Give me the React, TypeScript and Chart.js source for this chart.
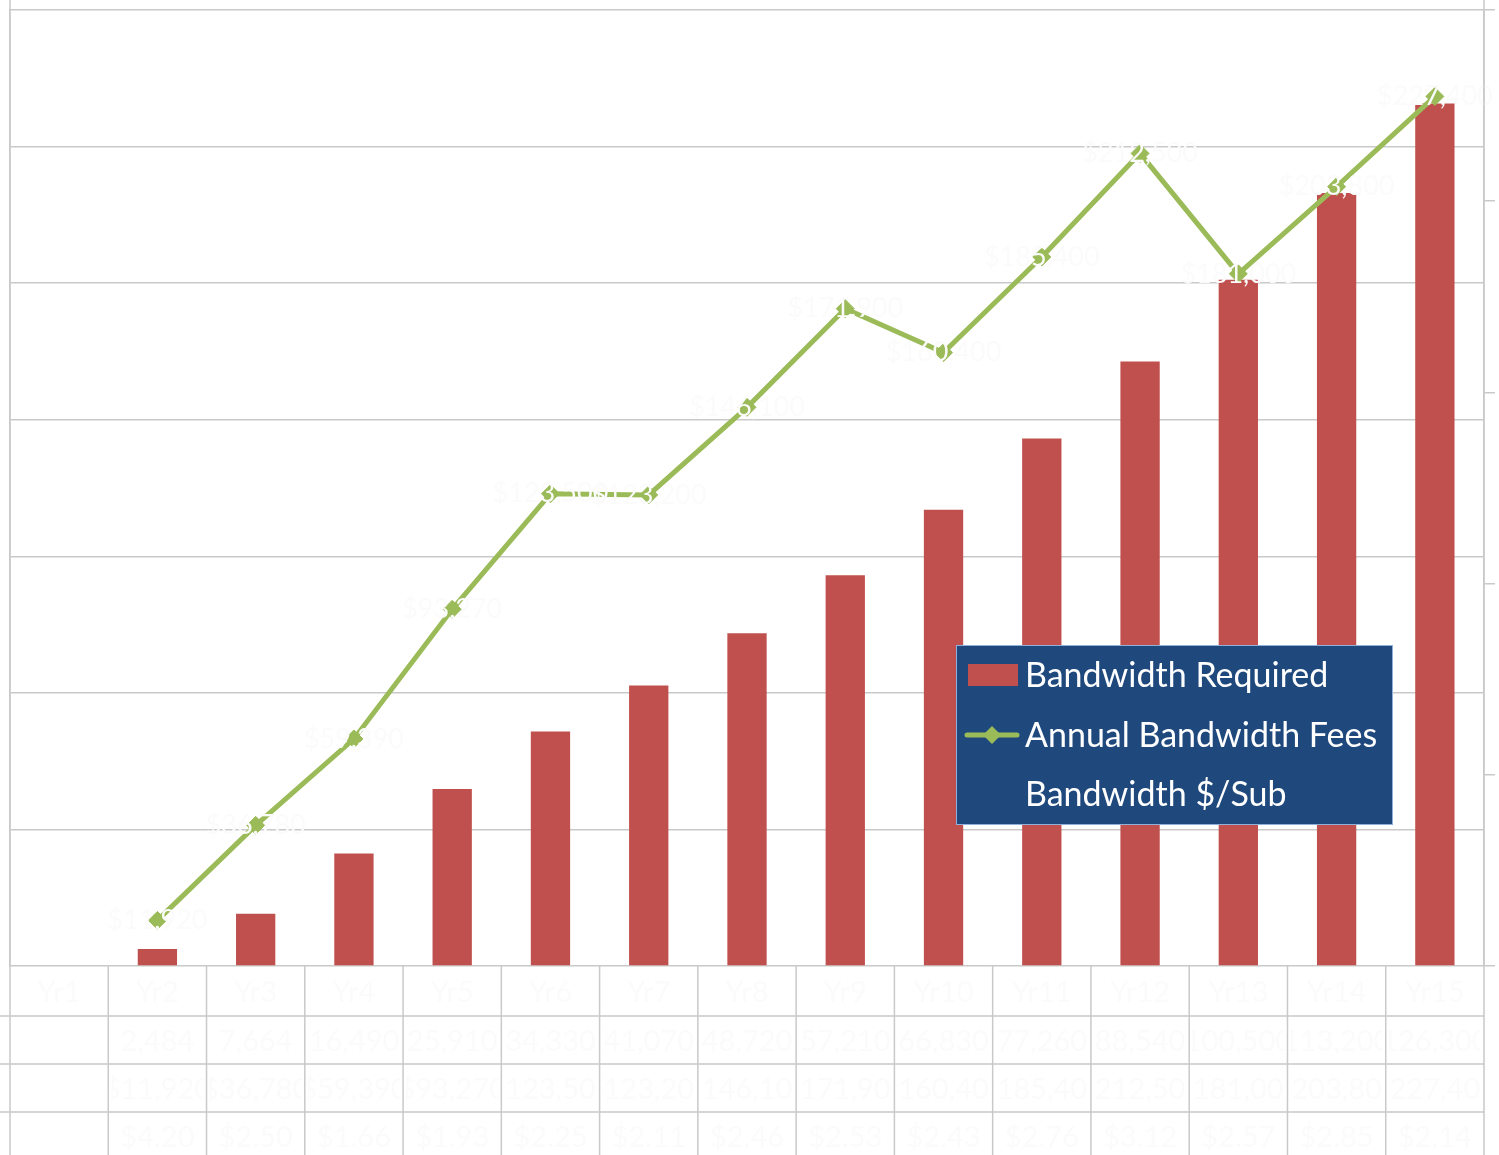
import React, { useEffect, useRef } from "react";
import { Chart, registerables } from "chart.js";

Chart.register(...registerables);

const categories = ["Yr1", "Yr2", "Yr3", "Yr4", "Yr5", "Yr6", "Yr7", "Yr8", "Yr9", "Yr10", "Yr11", "Yr12", "Yr13", "Yr14", "Yr15"];
const bandwidthRequired = [null, 2484, 7664, 16490, 25910, 34330, 41070, 48720, 57210, 66830, 77260, 88540, 100500, 113200, 126300];
const annualFees = [null, 11920, 36780, 59390, 93270, 123500, 123200, 146100, 171900, 160400, 185400, 212500, 181000, 203800, 227400];
const perSub = [null, 4.2, 2.5, 1.66, 1.93, 2.25, 2.11, 2.46, 2.53, 2.43, 2.76, 3.12, 2.57, 2.85, 2.14];
const seriesNames = ["Bandwidth Required", "Annual Bandwidth Fees", "Bandwidth $/Sub"];

const leftTicks = { min: 0, max: 140000, step: 20000 };
const rightTicks = { min: 0, max: 250000, step: 50000 };

const RED = "#c0504d";
const GREEN = "#9bbb59";
const GRID = "#c9c9c9";
const FAINT = "#fbfbfb";
const FONT = "Lato, 'Open Sans', sans-serif";

const fmtNum = (v: number | null) => (v == null ? "" : v.toLocaleString("en-US"));
const fmtMoney = (v: number | null) => (v == null ? "" : "$" + v.toLocaleString("en-US"));
const fmtMoney2 = (v: number | null) => (v == null ? "" : "$" + v.toFixed(2));

const tablePlugin = {
  id: "dataTable",
  afterDraw(chart: any) {
    const { ctx, chartArea } = chart;
    const xs = chart.scales.x;
    const H = chart.height;
    const n = categories.length;
    const half = (xs.getPixelForValue(1) - xs.getPixelForValue(0)) / 2;
    const rowTops = [chartArea.bottom, chartArea.bottom + 50, chartArea.bottom + 98, chartArea.bottom + 146];
    const rowBottoms = [rowTops[1], rowTops[2], rowTops[3], rowTops[3] + 48];
    ctx.save();
    ctx.strokeStyle = GRID;
    ctx.lineWidth = 1.5;
    for (let i = 0; i <= n; i++) {
      const x = i < n ? xs.getPixelForValue(i) - half : xs.getPixelForValue(n - 1) + half;
      ctx.beginPath();
      ctx.moveTo(x, i === 0 || i === n ? 0 : chartArea.bottom);
      ctx.lineTo(x, H);
      ctx.stroke();
    }
    for (let r = 1; r < rowTops.length; r++) {
      ctx.beginPath();
      ctx.moveTo(0, rowTops[r]);
      ctx.lineTo(chartArea.right, rowTops[r]);
      ctx.stroke();
    }
    const rows = [
      categories.map((c) => c),
      bandwidthRequired.map(fmtNum),
      annualFees.map(fmtMoney),
      perSub.map(fmtMoney2),
    ];
    ctx.fillStyle = FAINT;
    ctx.font = "29px " + FONT;
    ctx.textAlign = "center";
    ctx.textBaseline = "middle";
    rows.forEach((row, r) => {
      row.forEach((txt, i) => {
        if (!txt) return;
        const cx = xs.getPixelForValue(i);
        ctx.save();
        ctx.beginPath();
        ctx.rect(cx - half + 3, rowTops[r], half * 2 - 6, rowBottoms[r] - rowTops[r]);
        ctx.clip();
        ctx.fillText(txt, cx, (rowTops[r] + rowBottoms[r]) / 2 + 2);
        ctx.restore();
      });
    });
    ctx.restore();
  },
};

const labelPlugin = {
  id: "lineLabels",
  afterDatasetsDraw(chart: any) {
    const { ctx } = chart;
    const meta = chart.getDatasetMeta(1);
    ctx.save();
    ctx.fillStyle = FAINT;
    ctx.font = "27px " + FONT;
    ctx.textAlign = "center";
    ctx.textBaseline = "middle";
    meta.data.forEach((pt: any, i: number) => {
      const v = annualFees[i];
      if (v == null) return;
      ctx.fillText(fmtMoney(v), pt.x, pt.y);
    });
    ctx.restore();
  },
};

const legendPlugin = {
  id: "boxLegend",
  afterDraw(chart: any) {
    const { ctx } = chart;
    const ds = chart.data.datasets;
    const bx = 956, by = 645, bw = 437, bh = 180;
    ctx.save();
    ctx.fillStyle = "#1f497d";
    ctx.fillRect(bx, by, bw, bh);
    ctx.strokeStyle = "#8fb0d8";
    ctx.lineWidth = 1;
    ctx.strokeRect(bx + 0.5, by + 0.5, bw - 1, bh - 1);
    const rowsY = [675, 735, 794];
    ctx.font = "34px " + FONT;
    ctx.textBaseline = "middle";
    ctx.textAlign = "left";
    ds.forEach((d: any, i: number) => {
      const y = rowsY[i];
      if (d.type === "bar") {
        ctx.fillStyle = d.backgroundColor;
        ctx.fillRect(968, y - 11, 50, 22);
      } else if (d.showInLegendSymbol) {
        ctx.strokeStyle = d.borderColor;
        ctx.lineWidth = 5;
        ctx.lineCap = "round";
        ctx.beginPath();
        ctx.moveTo(967, y);
        ctx.lineTo(1017, y);
        ctx.stroke();
        ctx.fillStyle = d.borderColor;
        ctx.beginPath();
        ctx.moveTo(992, y - 9);
        ctx.lineTo(1001, y);
        ctx.lineTo(992, y + 9);
        ctx.lineTo(983, y);
        ctx.closePath();
        ctx.fill();
      }
      ctx.fillStyle = "#ffffff";
      ctx.fillText(d.label, 1025, y + 1);
    });
    ctx.restore();
  },
};

export default function App() {
  const ref = useRef<HTMLCanvasElement | null>(null);
  useEffect(() => {
    if (!ref.current) return;
    const chart = new Chart(ref.current, {
      data: {
        labels: categories,
        datasets: [
          {
            type: "bar",
            label: seriesNames[0],
            data: bandwidthRequired,
            backgroundColor: RED,
            yAxisID: "y",
            order: 2,
            barPercentage: 0.4,
            categoryPercentage: 1,
          } as any,
          {
            type: "line",
            label: seriesNames[1],
            data: annualFees,
            borderColor: GREEN,
            backgroundColor: GREEN,
            borderWidth: 5,
            pointStyle: "rectRot",
            pointRadius: 9,
            pointBorderWidth: 1,
            pointBackgroundColor: GREEN,
            pointBorderColor: GREEN,
            yAxisID: "y1",
            order: 0,
            showInLegendSymbol: true,
          } as any,
          {
            type: "line",
            label: seriesNames[2],
            data: perSub,
            borderColor: "rgba(0,0,0,0)",
            backgroundColor: "rgba(0,0,0,0)",
            pointRadius: 0,
            yAxisID: "y2",
            order: 1,
          } as any,
        ],
      },
      options: {
        responsive: false,
        animation: false,
        layout: { padding: { left: 8, top: 9, right: 4, bottom: 189 } },
        plugins: { legend: { display: false }, tooltip: { enabled: false } },
        scales: {
          x: { display: false, offset: true },
          y: {
            position: "left",
            min: leftTicks.min,
            max: leftTicks.max,
            ticks: { display: false, stepSize: leftTicks.step },
            grid: { color: GRID, lineWidth: 1.5, drawTicks: false },
            border: { display: true, color: GRID, width: 1.5 },
          },
          y1: {
            position: "right",
            min: rightTicks.min,
            max: rightTicks.max,
            ticks: { display: false, stepSize: rightTicks.step },
            grid: { drawOnChartArea: false, drawTicks: true, tickLength: 11, color: GRID, lineWidth: 1.5 },
            border: { display: true, color: GRID, width: 1.5 },
          },
          y2: { display: false, min: 0, max: 5 },
        },
      } as any,
      plugins: [tablePlugin, labelPlugin, legendPlugin],
    });
    return () => chart.destroy();
  }, []);
  return (
    <div style={{ position: "fixed", left: 0, top: 0, width: 1499, height: 1155, background: "#ffffff" }}>
      <canvas ref={ref} width={1499} height={1155} style={{ display: "block" }} />
    </div>
  );
}
